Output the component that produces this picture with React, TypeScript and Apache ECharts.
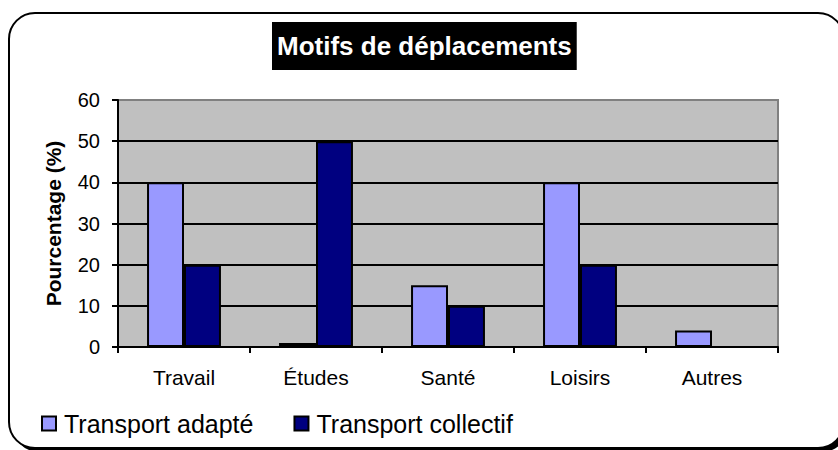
import React, { useEffect, useRef } from "react";
import * as echarts from "echarts";

const categories = ["Travail", "Études", "Santé", "Loisirs", "Autres"];
const transportAdapte = [40, 1, 15, 40, 4];
const transportCollectif = [20, 50, 10, 20, 0];
const seriesNames = ["Transport adapté", "Transport collectif"];
const titleText = "Motifs de déplacements";
const yAxisName = "Pourcentage (%)";

const FONT = "'Liberation Sans', Arial, sans-serif";

export default function App() {
  const ref = useRef<HTMLDivElement>(null);
  useEffect(() => {
    if (!ref.current) return;
    const chart = echarts.init(ref.current, null, { renderer: "svg" });
    chart.setOption({
      animation: false,
      backgroundColor: "#ffffff",
      textStyle: { fontFamily: FONT },
      title: {
        text: titleText,
        left: 272,
        top: 22,
        backgroundColor: "#000000",
        padding: [9, 5, 9, 5],
        textStyle: {
          color: "#ffffff",
          fontSize: 26,
          fontWeight: "bold",
          fontFamily: FONT,
          lineHeight: 30,
        },
      },
      graphic: [
        {
          type: "rect",
          z: -2,
          shape: { x: 13, y: 17, width: 835, height: 435, r: 26 },
          style: { fill: "#000000" },
        },
        {
          type: "rect",
          z: -1,
          shape: { x: 9, y: 13, width: 835, height: 435, r: 26 },
          style: { fill: "#ffffff", stroke: "#000000", lineWidth: 2 },
        },
      ],
      legend: {
        data: seriesNames,
        left: 36,
        top: 406,
        icon: "rect",
        itemWidth: 14,
        itemHeight: 14,
        itemGap: 40,
        textStyle: { fontSize: 25, color: "#000", fontFamily: FONT, padding: [0, 0, 0, 3] },
      },
      grid: {
        left: 118,
        right: 60,
        top: 100,
        bottom: 103,
        show: true,
        backgroundColor: "#c0c0c0",
        borderColor: "#808080",
        borderWidth: 2,
      },
      xAxis: {
        type: "category",
        data: categories,
        axisLine: { lineStyle: { color: "#000", width: 2 } },
        axisTick: { show: true, length: 6, lineStyle: { color: "#000", width: 2 } },
        axisLabel: { fontSize: 21, color: "#000", margin: 20, fontFamily: FONT },
      },
      yAxis: {
        type: "value",
        min: 0,
        max: 60,
        interval: 10,
        name: yAxisName,
        nameLocation: "middle",
        nameGap: 54,
        nameTextStyle: { fontSize: 21, fontWeight: "bold", color: "#000", fontFamily: FONT },
        axisLine: { show: true, lineStyle: { color: "#000", width: 2 } },
        axisTick: { show: true, length: 6, lineStyle: { color: "#000", width: 2 } },
        axisLabel: { fontSize: 20, color: "#000", margin: 18, fontFamily: FONT },
        splitLine: { show: true, showMaxLine: false, lineStyle: { color: "#000", width: 2 } },
      },
      series: [
        {
          name: seriesNames[0],
          type: "bar",
          data: transportAdapte,
          barGap: "0%",
          barCategoryGap: "44%",
          itemStyle: { color: "#9999ff", borderColor: "#000", borderWidth: 2 },
        },
        {
          name: seriesNames[1],
          type: "bar",
          data: transportCollectif,
          barGap: "0%",
          barCategoryGap: "44%",
          itemStyle: { color: "#000080", borderColor: "#000", borderWidth: 2 },
        },
      ],
    });
    return () => chart.dispose();
  }, []);
  return <div ref={ref} style={{ width: 838, height: 450, position: "absolute", left: 0, top: 0 }} />;
}
